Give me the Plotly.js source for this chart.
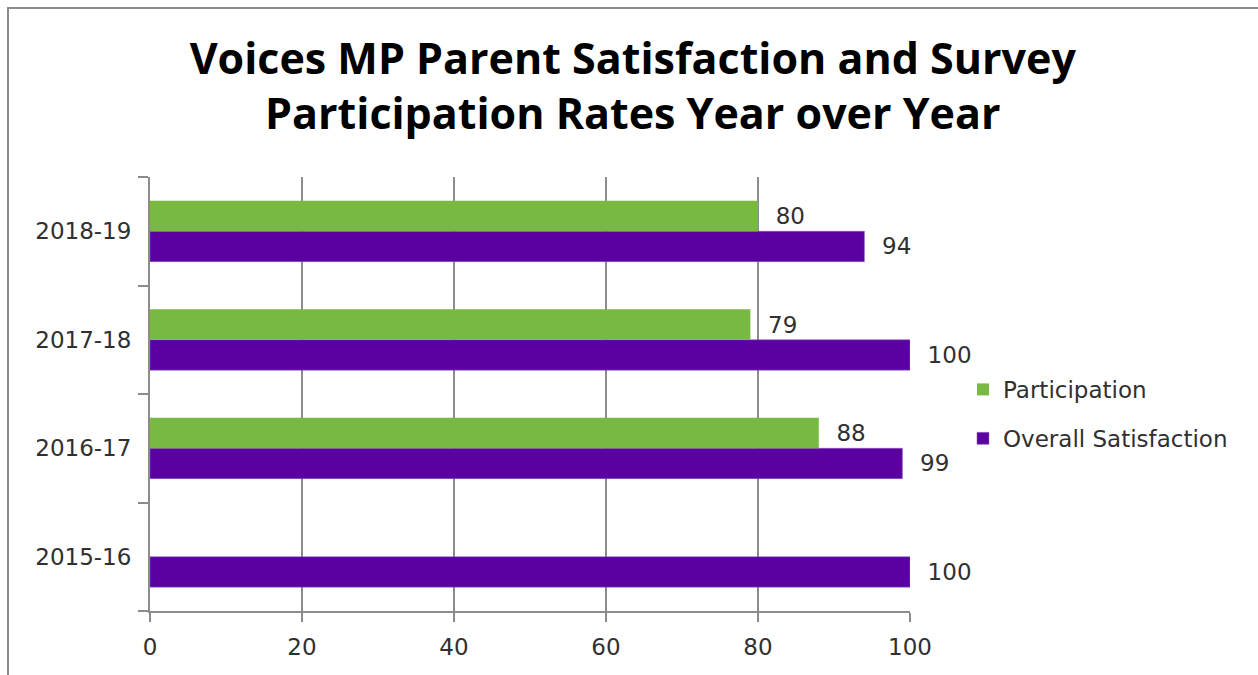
<!DOCTYPE html>
<html>
<head>
<meta charset="utf-8">
<script src="https://cdn.plot.ly/plotly-3.0.1.min.js"></script>
<style>
  html, body { margin: 0; padding: 0; background: #fff; }
  #chart { width: 1258px; height: 675px; }
  #frame { position: absolute; left: 7px; top: 7px; width: 1251px; height: 668px;
           border-left: 2px solid #8c8c8c; border-top: 2px solid #8c8c8c; pointer-events: none; }
</style>
</head>
<body>
<div id="chart"></div>
<div id="frame"></div>
<script>
const years = ["2015-16", "2016-17", "2017-18", "2018-19"];
const participation = [null, 88, 79, 80];
const satisfaction = [100, 99, 100, 94];
const xTicks = [0, 20, 40, 60, 80, 100];

const labelFont = { family: "DejaVu Sans, Verdana, sans-serif", size: 23, color: "#303030" };

const traces = [
  {
    type: "bar", orientation: "h", name: "Overall Satisfaction",
    y: years, x: satisfaction, legendrank: 2, legendgroup: "sat",
    marker: { color: "#5b00a1", line: { color: "#8a5cc0", width: 0.5 } },
    texttemplate: "  %{x}", textposition: "outside", cliponaxis: false,
    constraintext: "none", textfont: labelFont, hoverinfo: "skip"
  },
  {
    type: "bar", orientation: "h", name: "Participation",
    y: years, x: participation, legendrank: 1, legendgroup: "part",
    marker: { color: "#78b943" },
    texttemplate: "  %{x}", textposition: "outside", cliponaxis: false,
    constraintext: "none", textfont: labelFont, hoverinfo: "skip"
  }
];

const layout = {
  width: 1258, height: 675,
  margin: { l: 150, r: 348, t: 177, b: 64 },
  paper_bgcolor: "#ffffff", plot_bgcolor: "#ffffff",
  barmode: "group", bargap: 0.44, bargroupgap: 0,
  title: {
    text: "<b>Voices MP Parent Satisfaction and Survey<br>Participation Rates Year over Year</b>",
    font: { family: "Open Sans, Noto Sans, sans-serif", size: 43, color: "#000" },
    x: 0.503, xanchor: "center", xref: "container",
    y: 0.891, yanchor: "top", yref: "container"
  },
  xaxis: {
    range: [0, 100], tickvals: xTicks, ticktext: xTicks.map(String),
    showgrid: true, gridcolor: "#8c8c8c", gridwidth: 1.5,
    showline: true, linecolor: "#8c8c8c", linewidth: 2,
    ticks: "outside", ticklen: 9, tickcolor: "#8c8c8c", tickwidth: 2,
    ticklabelstandoff: 5,
    zeroline: false, tickfont: labelFont, fixedrange: true
  },
  yaxis: {
    type: "category", categoryorder: "array", categoryarray: years,
    showgrid: false, showline: true, linecolor: "#8c8c8c", linewidth: 2,
    ticks: "outside", ticklen: 10, tickcolor: "#8c8c8c", tickwidth: 2,
    tickson: "boundaries", ticklabelstandoff: 12,
    zeroline: false, tickfont: labelFont, fixedrange: true
  },
  showlegend: true,
  legend: {
    x: 1.0697, xanchor: "left", y: 0.454, yanchor: "middle",
    traceorder: "grouped", tracegroupgap: 16,
    font: labelFont, bgcolor: "rgba(0,0,0,0)"
  }
};

Plotly.newPlot("chart", traces, layout, { displayModeBar: false, staticPlot: true });
</script>
</body>
</html>
